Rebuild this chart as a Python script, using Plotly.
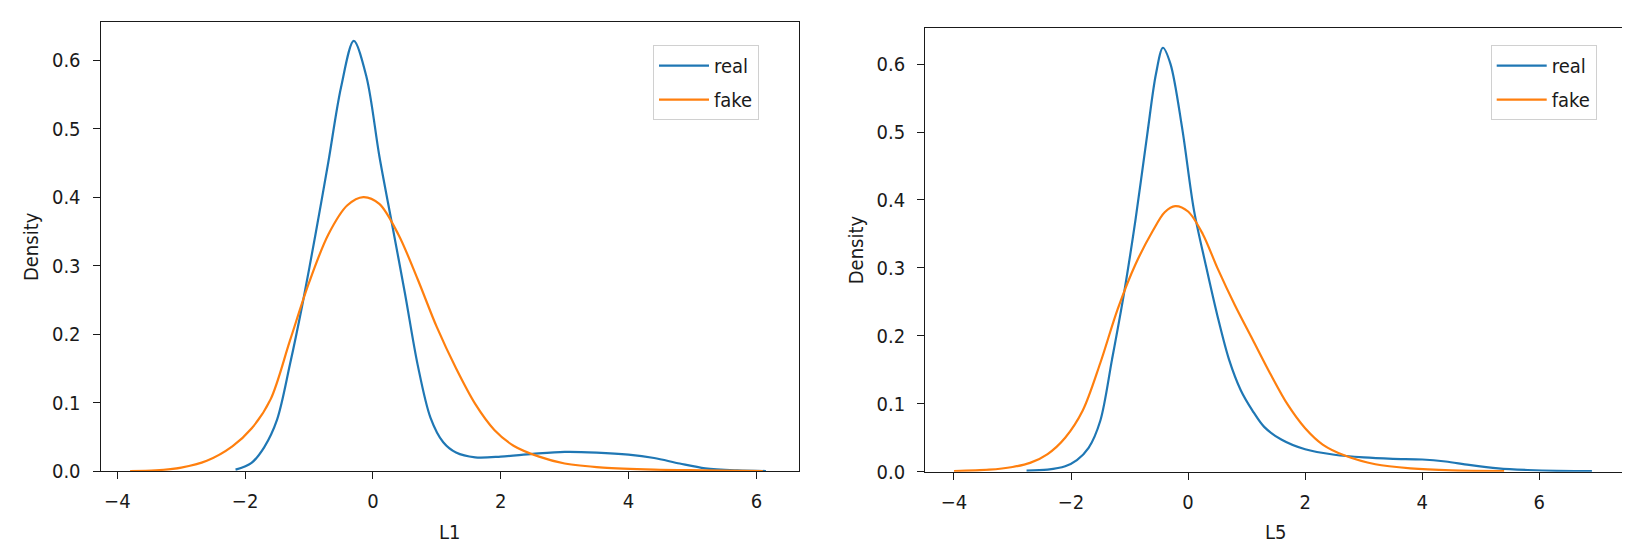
import plotly.graph_objects as go

# ---- data (KDE curves, x / density) ----
l1_real_x = [-2.15, -1.9, -1.7, -1.5, -1.3, -1.1, -0.9, -0.7, -0.5, -0.3, -0.1, 0.1, 0.3, 0.5,
             0.7, 0.9, 1.1, 1.3, 1.6, 2.0, 2.5, 3.0, 3.5, 4.0, 4.4, 4.8, 5.2, 5.7, 6.15]
l1_real_y = [0.002, 0.012, 0.035, 0.075, 0.155, 0.245, 0.345, 0.45, 0.56, 0.628, 0.575, 0.46,
             0.36, 0.26, 0.155, 0.078, 0.042, 0.027, 0.020, 0.021, 0.025, 0.028, 0.027, 0.024,
             0.019, 0.011, 0.004, 0.001, 0.0]

l1_fake_x = [-3.8, -3.4, -3.0, -2.6, -2.2, -1.9, -1.6, -1.3, -1.0, -0.7, -0.4, -0.15, 0.1, 0.4,
             0.7, 1.0, 1.3, 1.6, 1.9, 2.2, 2.6, 3.0, 3.6, 4.4, 5.2, 6.1]
l1_fake_y = [0.0, 0.001, 0.005, 0.015, 0.036, 0.062, 0.105, 0.19, 0.275, 0.345, 0.388, 0.400,
             0.39, 0.345, 0.28, 0.21, 0.15, 0.098, 0.06, 0.037, 0.021, 0.011, 0.005, 0.002,
             0.001, 0.0]

l5_real_x = [-2.76, -2.4, -2.1, -1.9, -1.7, -1.5, -1.3, -1.1, -0.9, -0.7, -0.55, -0.43, -0.3,
             -0.1, 0.1, 0.3, 0.5, 0.7, 0.9, 1.1, 1.3, 1.6, 2.0, 2.5, 3.0, 3.5, 4.0, 4.4, 4.8,
             5.3, 5.8, 6.3, 6.9]
l5_real_y = [0.0015, 0.003, 0.008, 0.017, 0.035, 0.075, 0.165, 0.26, 0.37, 0.495, 0.585, 0.624,
             0.6, 0.505, 0.385, 0.305, 0.23, 0.165, 0.12, 0.09, 0.066, 0.047, 0.033, 0.025,
             0.021, 0.019, 0.018, 0.015, 0.010, 0.005, 0.0025, 0.0012, 0.001]

l5_fake_x = [-4.0, -3.4, -3.0, -2.7, -2.4, -2.1, -1.8, -1.5, -1.2, -0.9, -0.6, -0.4, -0.22, 0.0,
             0.25, 0.5, 0.8, 1.1, 1.4, 1.7, 2.0, 2.3, 2.7, 3.2, 3.8, 4.5, 5.4]
l5_fake_y = [0.001, 0.003, 0.007, 0.013, 0.026, 0.05, 0.09, 0.16, 0.24, 0.305, 0.355, 0.382,
             0.391, 0.383, 0.35, 0.3, 0.245, 0.195, 0.145, 0.099, 0.064, 0.04, 0.023, 0.011,
             0.005, 0.002, 0.001]

series_names = ["real", "fake"]
x_titles = ["L1", "L5"]
y_title = "Density"
x_tickvals = [-4, -2, 0, 2, 4, 6]
x_ticktext = ["\u22124", "\u22122", "0", "2", "4", "6"]
y_tickvals = [0.0, 0.1, 0.2, 0.3, 0.4, 0.5, 0.6]
y_ticktext = ["0.0", "0.1", "0.2", "0.3", "0.4", "0.5", "0.6"]

BLUE = "#1f77b4"
ORANGE = "#ff7f0e"
FONT = "DejaVu Sans Condensed, DejaVu Sans"
FS = 20
INK = "#1a1a1a"
W, H = 1630, 553

fig = go.Figure()

def add(x, y, name, color, xa, ya, legend):
    fig.add_trace(go.Scatter(
        x=x, y=y, name=name, mode="lines",
        line=dict(color=color, width=2.2, shape="spline", smoothing=0.9),
        xaxis=xa, yaxis=ya, legend=legend, legendgroup=legend + name,
        hoverinfo="skip",
    ))

add(l1_real_x, l1_real_y, series_names[0], BLUE, "x", "y", "legend")
add(l1_fake_x, l1_fake_y, series_names[1], ORANGE, "x", "y", "legend")
add(l5_real_x, l5_real_y, series_names[0], BLUE, "x2", "y2", "legend2")
add(l5_fake_x, l5_fake_y, series_names[1], ORANGE, "x2", "y2", "legend2")

# panel boxes in pixels: (left, right, top, bottom)
panels = [(92.7, 791.0, 14.0, 473.3), (917.3, 1616.7, 20.7, 474.0)]
xranges = [[-4.26, 6.667], [-4.49, 7.46]]
yranges = [[0, 0.656], [0, 0.6527]]

axis_common = dict(
    showline=True, linecolor=INK, linewidth=1.3, mirror=True,
    ticks="outside", ticklen=7, tickwidth=1.3, tickcolor=INK,
    showgrid=False, zeroline=False,
    tickfont=dict(family=FONT, size=FS, color=INK),
)

for i, (l, r, t, b) in enumerate(panels):
    sx = "" if i == 0 else "2"
    fig.layout["xaxis" + sx] = dict(
        axis_common, domain=[l / W, r / W], range=xranges[i], anchor="y" + sx,
        tickmode="array", tickvals=x_tickvals, ticktext=x_ticktext,
        ticklabelstandoff=5,
    )
    fig.layout["yaxis" + sx] = dict(
        axis_common, domain=[(H - b) / H, (H - t) / H], range=yranges[i], anchor="x" + sx,
        tickmode="array", tickvals=y_tickvals, ticktext=y_ticktext,
        ticklabelstandoff=8,
    )
    # axis titles
    fig.add_annotation(
        text=x_titles[i], xref="paper", yref="paper",
        x=((l + r) / 2) / W, y=(H - 536) / H, xanchor="center", yanchor="middle",
        showarrow=False, font=dict(family=FONT, size=FS, color=INK),
    )
    fig.add_annotation(
        text=y_title, xref="paper", yref="paper",
        x=(l - 69) / W, y=(H - (t + b) / 2) / H, xanchor="center", yanchor="middle",
        textangle=-90, showarrow=False, font=dict(family=FONT, size=FS, color=INK),
    )

legend_common = dict(
    bgcolor="rgba(255,255,255,0.8)", bordercolor="#d0d0d0", borderwidth=1,
    font=dict(family=FONT, size=FS, color=INK),
    xanchor="left", yanchor="top", tracegroupgap=5,
    traceorder="grouped", itemwidth=50,
)
fig.update_layout(
    width=W, height=H,
    margin=dict(l=0, r=0, t=0, b=0),
    paper_bgcolor="white", plot_bgcolor="white",
    showlegend=True,
    legend=dict(legend_common, x=645 / W, y=(H - 38) / H),
    legend2=dict(legend_common, x=1482.7 / W, y=(H - 38) / H),
)

fig.write_html("out.html")
